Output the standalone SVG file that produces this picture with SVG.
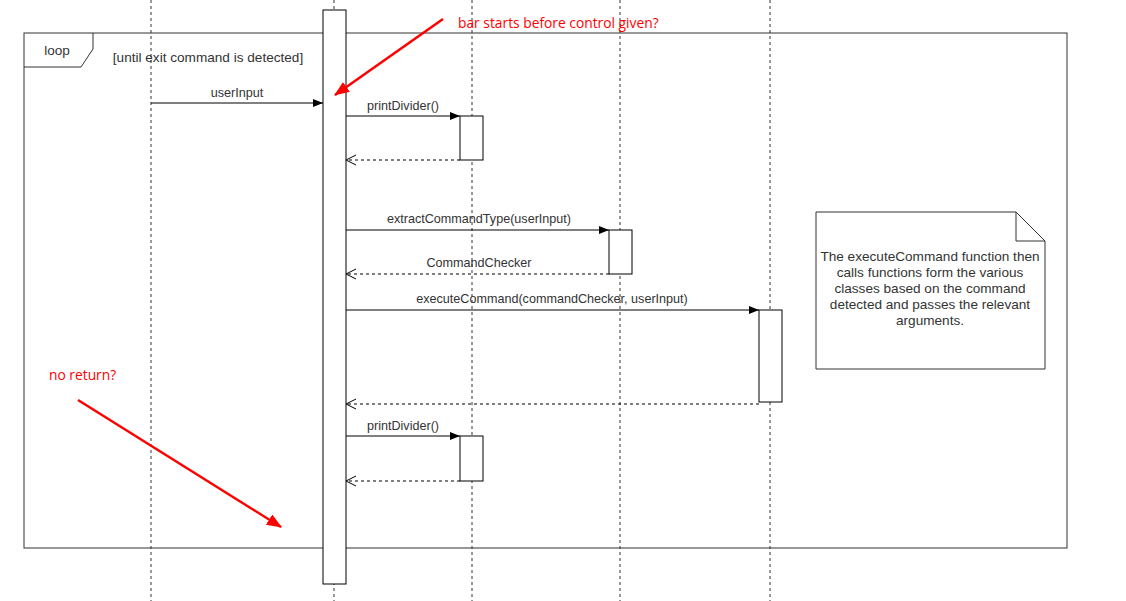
<svg xmlns="http://www.w3.org/2000/svg" width="1126" height="601" viewBox="0 0 1126 601">
<style>
.life{stroke:#333;stroke-width:1;stroke-dasharray:3,3;fill:none}
.box{fill:#fff;stroke:#000;stroke-width:1}
.msg{stroke:#000;stroke-width:1;fill:none}
.ret{stroke:#000;stroke-width:1;fill:none;stroke-dasharray:3,3}
.t{font-family:"Liberation Sans",Arial,sans-serif;font-size:12.6px;fill:#333;text-anchor:middle}
.g{font-size:13.6px}
.n{font-size:13.6px}
.red{font-family:"Open Sans","Liberation Sans",sans-serif;font-size:13.8px;fill:#f00}
</style>
<defs>
<marker id="fill" markerWidth="12" markerHeight="10" refX="11" refY="5" orient="auto" markerUnits="userSpaceOnUse"><path d="M1,1 L11,5 L1,9 Z" fill="#000"/></marker>
<marker id="open" markerWidth="12" markerHeight="12" refX="11" refY="6" orient="auto" markerUnits="userSpaceOnUse"><path d="M1,1 L11,6 L1,11" fill="none" stroke="#000"/></marker>
<marker id="redh" markerWidth="16" markerHeight="12" refX="14" refY="6" orient="auto" markerUnits="userSpaceOnUse"><path d="M0,0 L15,6 L0,12 Z" fill="#f00"/></marker>
</defs>
<rect width="1126" height="601" fill="#fff"/>
<g id="lifelines">
<line class="life" x1="151" y1="0" x2="151" y2="601"/>
<line class="life" x1="334" y1="0" x2="334" y2="601"/>
<line class="life" x1="472" y1="0" x2="472" y2="601"/>
<line class="life" x1="620" y1="0" x2="620" y2="601"/>
<line class="life" x1="770" y1="0" x2="770" y2="601"/>
</g>
<g id="loop">
<rect x="24" y="33" width="1043" height="515" fill="none" stroke="#333" stroke-width="1"/>
<path d="M24,67 L81,67 L93,49 L93,33" fill="none" stroke="#333"/>
<text class="t g" x="57" y="55">loop</text>
<text class="t g" x="208" y="62">[until exit command is detected]</text>
</g>
<g id="main-bar"><rect class="box" x="323" y="10" width="23" height="574"/></g>
<g id="act-print1"><rect class="box" x="460" y="116" width="23" height="44"/></g>
<g id="act-extract"><rect class="box" x="609" y="230" width="23" height="44"/></g>
<g id="act-execute"><rect class="box" x="759" y="310" width="23" height="92"/></g>
<g id="act-print2"><rect class="box" x="460" y="436" width="23" height="45"/></g>
<g id="connectors">
<line class="msg" x1="151" y1="103" x2="323" y2="103" marker-end="url(#fill)"/>
<text class="t" x="237" y="97">userInput</text>
<line class="msg" x1="346" y1="116" x2="460" y2="116" marker-end="url(#fill)"/>
<text class="t" x="403" y="110">printDivider()</text>
<line class="ret" x1="460" y1="160" x2="346" y2="160" marker-end="url(#open)"/>
<line class="msg" x1="346" y1="230" x2="609" y2="230" marker-end="url(#fill)"/>
<text class="t" x="479" y="223">extractCommandType(userInput)</text>
<line class="ret" x1="609" y1="274" x2="346" y2="274" marker-end="url(#open)"/>
<text class="t" x="479" y="267">CommandChecker</text>
<line class="msg" x1="346" y1="310" x2="759" y2="310" marker-end="url(#fill)"/>
<text class="t" x="552" y="303">executeCommand(commandChecker, userInput)</text>
<line class="ret" x1="759" y1="404" x2="346" y2="404" marker-end="url(#open)"/>
<line class="msg" x1="346" y1="436" x2="460" y2="436" marker-end="url(#fill)"/>
<text class="t" x="403" y="430">printDivider()</text>
<line class="ret" x1="460" y1="481" x2="346" y2="481" marker-end="url(#open)"/>
</g>
<g id="note">
<path d="M816,212 L1016,212 L1045,241 L1045,369 L816,369 Z" fill="#fff" stroke="#333"/>
<path d="M1016,212 L1016,241 L1045,241" fill="none" stroke="#333"/>
<text class="t n" x="930" y="261">The executeCommand function then</text>
<text class="t n" x="930" y="277">calls functions form the various</text>
<text class="t n" x="930" y="293">classes based on the command</text>
<text class="t n" x="930" y="309">detected and passes the relevant</text>
<text class="t n" x="930" y="325">arguments.</text>
</g>
<g id="annotations">
<line x1="443" y1="19" x2="335" y2="95" stroke="#f00" stroke-width="2.5" marker-end="url(#redh)"/>
<text class="red" x="458" y="28">bar starts before control given?</text>
<line x1="78" y1="400" x2="281" y2="527" stroke="#f00" stroke-width="2.5" marker-end="url(#redh)"/>
<text class="red" x="49" y="380">no return?</text>
</g>
</svg>
